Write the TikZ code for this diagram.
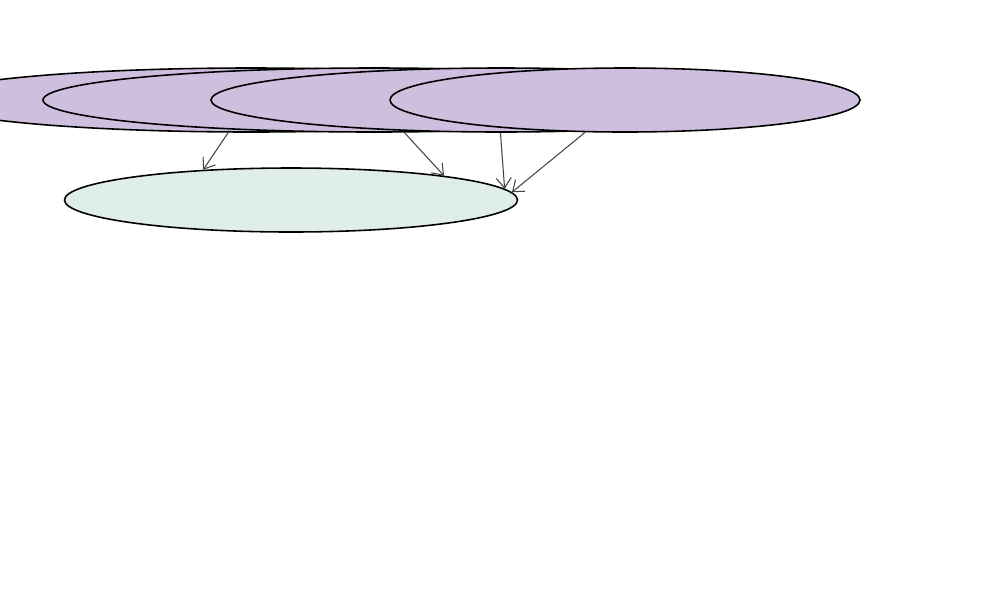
\documentclass[tikz,border=0pt]{standalone}
\usepackage{tikz}
\usetikzlibrary{arrows.meta,shapes.geometric}

\definecolor{lilac}{HTML}{CFBFDF}
\definecolor{mint}{HTML}{DFEEE6}
\definecolor{edgegray}{HTML}{444444}

\begin{document}
\begin{tikzpicture}[
    src/.style={ellipse,draw=black,fill=lilac,line width=0.9pt,
                minimum height=1.28cm,inner sep=0pt},
    dst/.style={ellipse,draw=black,fill=mint,line width=0.9pt,
                minimum width=9.06cm,minimum height=1.28cm,inner sep=0pt},
    link/.style={-{Straight Barb[length=2mm,width=3mm]},line width=0.6pt,edgegray},
]
\useasboundingbox (0,0) rectangle (20,-12);

% upper row, drawn left to right
\node[src,minimum width=13.04cm] (A) at (5.02,-2)  {};
\node[src,minimum width=13.24cm] (B) at (7.48,-2)  {};
\node[src,minimum width=11.6cm]  (C) at (10.02,-2) {};
\node[src,minimum width=9.4cm]   (D) at (12.5,-2)  {};

% target
\node[dst] (G) at (5.82,-4) {};

% edges into the target
\draw[link] (A.-125) -- (G.161);
\draw[link] (B.-47)  -- (G.9.3);
\draw[link] (C.-91)  -- (G.3.8);
\draw[link] (D.-141) -- (G.2);

\end{tikzpicture}
\end{document}
